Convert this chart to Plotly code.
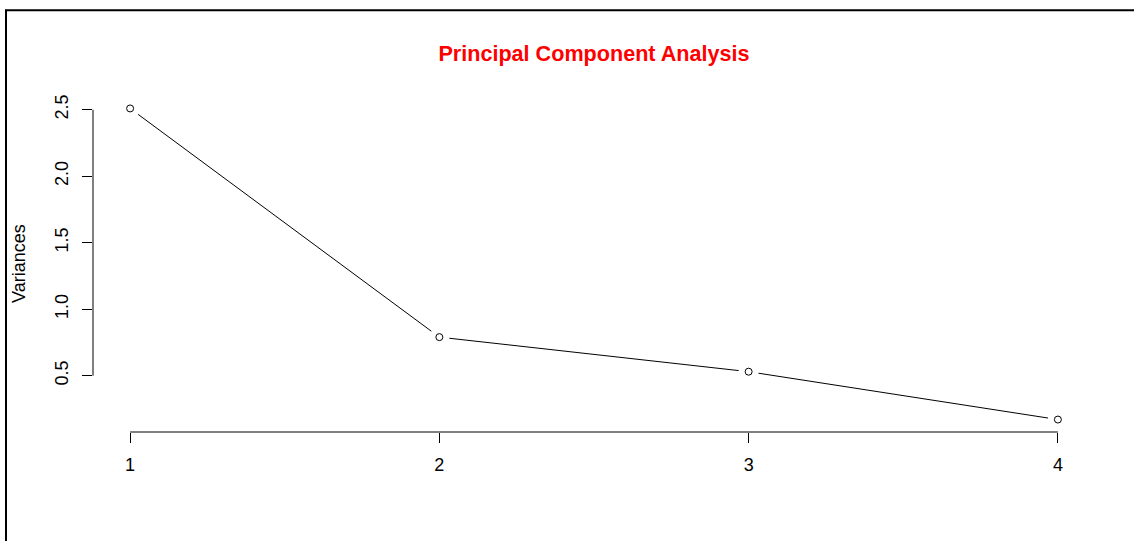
import plotly.graph_objects as go
import math

components = [1, 2, 3, 4]
variances = [2.51, 0.79, 0.53, 0.17]
y_tickvals = [0.5, 1.0, 1.5, 2.0, 2.5]
y_ticktext = ["0.5", "1.0", "1.5", "2.0", "2.5"]
x_tickvals = [1, 2, 3, 4]
x_ticktext = ["1", "2", "3", "4"]
title_text = "Principal Component Analysis"
ylabel_text = "Variances"

W_FIG, H_FIG = 1134, 541
ML, MR, MT, MB = 93, 39, 95.5, 108.5
PW = W_FIG - ML - MR
PH = H_FIG - MT - MB

def ext(lo, hi, f=0.04):
    d = (hi - lo) * f
    return [lo - d, hi + d]

xr = ext(min(components), max(components))
yr = ext(min(variances), max(variances))

def to_px(x, y):
    return (ML + (x - xr[0]) / (xr[1] - xr[0]) * PW,
            MT + (yr[1] - y) / (yr[1] - yr[0]) * PH)

def to_data(px, py):
    return (xr[0] + (px - ML) / PW * (xr[1] - xr[0]),
            yr[1] - (py - MT) / PH * (yr[1] - yr[0]))

# line segments with gaps around points (R type="b")
GAP = 10
lx, ly = [], []
for i in range(len(components) - 1):
    p0 = to_px(components[i], variances[i])
    p1 = to_px(components[i + 1], variances[i + 1])
    dx, dy = p1[0] - p0[0], p1[1] - p0[1]
    L = math.hypot(dx, dy)
    ux, uy = dx / L, dy / L
    a = to_data(p0[0] + ux * GAP, p0[1] + uy * GAP)
    b = to_data(p1[0] - ux * GAP, p1[1] - uy * GAP)
    lx += [a[0], b[0], None]
    ly += [a[1], b[1], None]

fig = go.Figure()
fig.add_trace(go.Scatter(x=lx, y=ly, mode="lines",
                         line=dict(color="black", width=1), hoverinfo="skip"))
fig.add_trace(go.Scatter(x=components, y=variances, mode="markers",
                         marker=dict(symbol="circle-open", size=7,
                                     color="black", line=dict(width=1))))

FONT = "Liberation Sans, Arial, sans-serif"
fig.update_layout(
    width=W_FIG, height=H_FIG,
    margin=dict(l=ML, r=MR, t=MT, b=MB, autoexpand=False),
    paper_bgcolor="white", plot_bgcolor="white",
    showlegend=False,
    font=dict(family=FONT, size=18, color="black"),
    title=dict(text=title_text, x=0.5, xref="paper", xanchor="center",
               y=1 - 53 / H_FIG, yref="container", yanchor="middle",
               font=dict(family=FONT, size=21.6, color="#ff0000", weight="bold")),
    xaxis=dict(range=xr, tickvals=x_tickvals, ticktext=x_ticktext,
               ticks="outside", ticklen=10, tickcolor="black", tickwidth=1,
               showline=False, showgrid=False, zeroline=False,
               ticklabelstandoff=6,
               tickfont=dict(family=FONT, size=18, color="black")),
    yaxis=dict(range=yr, tickvals=y_tickvals, ticktext=y_ticktext,
               ticks="outside", ticklen=10, tickcolor="black", tickwidth=1,
               tickangle=-90,
               showline=False, showgrid=False, zeroline=False,
               ticklabelstandoff=7,
               tickfont=dict(family=FONT, size=18, color="black")),
)

# axis lines spanning first to last tick, as R draws them
fig.add_shape(type="line", xref="paper", yref="y", x0=0, x1=0,
              y0=y_tickvals[0], y1=y_tickvals[-1],
              line=dict(color="black", width=1))
fig.add_shape(type="line", xref="x", yref="paper", x0=x_tickvals[0], x1=x_tickvals[-1],
              y0=0, y1=0, line=dict(color="black", width=1))

# y-axis title
fig.add_annotation(text=ylabel_text, xref="paper", yref="paper",
                   x=(19 - ML) / PW, y=0.5, textangle=-90, showarrow=False,
                   xanchor="center", yanchor="middle",
                   font=dict(family=FONT, size=18, color="black"))

# frame lines (left and top) from the screenshot
def px2paper_x(px):
    return (px - ML) / PW
def px2paper_y(py):
    return (H_FIG - MB - py) / PH

fig.add_shape(type="line", xref="paper", yref="paper",
              x0=px2paper_x(6), x1=px2paper_x(6), y0=px2paper_y(9), y1=px2paper_y(H_FIG + 5),
              line=dict(color="black", width=2))
fig.add_shape(type="line", xref="paper", yref="paper",
              x0=px2paper_x(5), x1=px2paper_x(W_FIG + 5), y0=px2paper_y(9.5), y1=px2paper_y(9.5),
              line=dict(color="black", width=2))

fig.write_html("out.html")
